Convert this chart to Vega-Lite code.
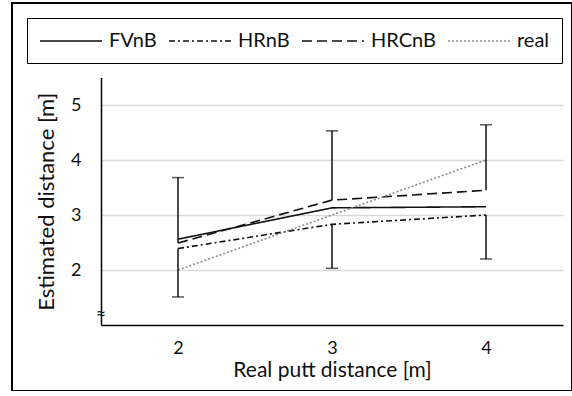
{
  "$schema": "https://vega.github.io/schema/vega-lite/v6.json",
  "width": 560,
  "height": 388,
  "autosize": "none",
  "padding": {"left": 12, "top": 3, "right": 0, "bottom": 0},
  "background": "white",
  "config": {
    "font": "Lato",
    "view": {"stroke": "black", "strokeWidth": 2},
    "axis": {"labelColor": "#111", "titleColor": "#111", "labelFont": "Lato", "titleFont": "Lato", "titleFontWeight": "normal"}
  },
  "datasets": {
    "lines": [
      {"x": 2, "y": 2.56, "series": "FVnB"}, {"x": 3, "y": 3.13, "series": "FVnB"}, {"x": 4, "y": 3.15, "series": "FVnB"},
      {"x": 2, "y": 2.39, "series": "HRnB"}, {"x": 3, "y": 2.83, "series": "HRnB"}, {"x": 4, "y": 3.0, "series": "HRnB"},
      {"x": 2, "y": 2.49, "series": "HRCnB"}, {"x": 3, "y": 3.27, "series": "HRCnB"}, {"x": 4, "y": 3.45, "series": "HRCnB"},
      {"x": 2, "y": 2.0, "series": "real"}, {"x": 3, "y": 3.0, "series": "real"}, {"x": 4, "y": 4.0, "series": "real"}
    ],
    "errors": [
      {"x": 2, "from": 2.49, "to": 3.68}, {"x": 2, "from": 2.39, "to": 1.51},
      {"x": 3, "from": 3.27, "to": 4.53}, {"x": 3, "from": 2.83, "to": 2.03},
      {"x": 4, "from": 3.45, "to": 4.64}, {"x": 4, "from": 3.0, "to": 2.2}
    ],
    "brk": [{"x": 1.5, "y": 1.18, "label": "≈"}]
  },
  "layer": [
    {
      "data": {"name": "lines"},
      "mark": {"type": "line", "strokeWidth": 1.6},
      "encoding": {
        "x": {"field": "x", "type": "quantitative",
          "scale": {"domain": [1.5, 4.5], "range": [89, 551], "nice": false, "zero": false},
          "axis": {"values": [2, 3, 4], "format": "d", "offset": -66, "grid": false, "ticks": false, "tickSize": 0, "domainColor": "black", "domainWidth": 1.5,
            "labelFontSize": 18, "labelPadding": 14, "title": "Real putt distance [m]", "titleFontSize": 21, "titlePadding": 2}},
        "y": {"field": "y", "type": "quantitative",
          "scale": {"domain": [1, 5.5], "range": [322, 74.5], "nice": false, "zero": false},
          "axis": {"values": [2, 3, 4, 5], "format": "d", "offset": -89, "grid": true, "gridColor": "#d9d9d9", "gridWidth": 1.5, "ticks": false, "tickSize": 0, "domainColor": "black", "domainWidth": 1.5,
            "labelFontSize": 18, "labelPadding": 20, "title": "Estimated distance [m]", "titleFontSize": 22, "titlePadding": 12}},
        "color": {"field": "series", "type": "nominal",
          "scale": {"domain": ["FVnB", "HRnB", "HRCnB", "real"], "range": ["#111111", "#111111", "#111111", "#8c8c8c"]},
          "legend": {"orient": "none", "legendX": 15, "legendY": 15, "direction": "horizontal", "columns": 4, "title": null,
            "symbolType": "M-1,0H5.2", "symbolSize": 400, "symbolStrokeWidth": 1.5, "labelFontSize": 20, "labelOffset": 48,
            "columnPadding": 9, "padding": 12, "strokeColor": "black", "labelColor": "#111"}},
        "strokeDash": {"field": "series", "type": "nominal",
          "scale": {"domain": ["FVnB", "HRnB", "HRCnB", "real"], "range": [[1, 0], [6, 3, 2, 3], [10, 5], [2, 2]]},
          "legend": {"orient": "none", "legendX": 15, "legendY": 15, "direction": "horizontal", "columns": 4, "title": null,
            "symbolType": "M-1,0H5.2", "symbolSize": 400, "symbolStrokeWidth": 1.5, "labelFontSize": 20, "labelOffset": 48,
            "columnPadding": 9, "padding": 12, "strokeColor": "black", "labelColor": "#111"}}
      }
    },
    {
      "data": {"name": "errors"},
      "mark": {"type": "rule", "color": "#111111", "strokeWidth": 1.5},
      "encoding": {
        "x": {"field": "x", "type": "quantitative"},
        "y": {"field": "from", "type": "quantitative"},
        "y2": {"field": "to"}
      }
    },
    {
      "data": {"name": "errors"},
      "mark": {"type": "tick", "orient": "horizontal", "color": "#111111", "size": 12, "thickness": 1.5},
      "encoding": {
        "x": {"field": "x", "type": "quantitative"},
        "y": {"field": "to", "type": "quantitative"}
      }
    },
    {
      "data": {"name": "brk"},
      "mark": {"type": "text", "fontSize": 18, "align": "center", "baseline": "middle", "color": "#111"},
      "encoding": {
        "x": {"field": "x", "type": "quantitative"},
        "y": {"field": "y", "type": "quantitative"},
        "text": {"field": "label"}
      }
    }
  ]
}
